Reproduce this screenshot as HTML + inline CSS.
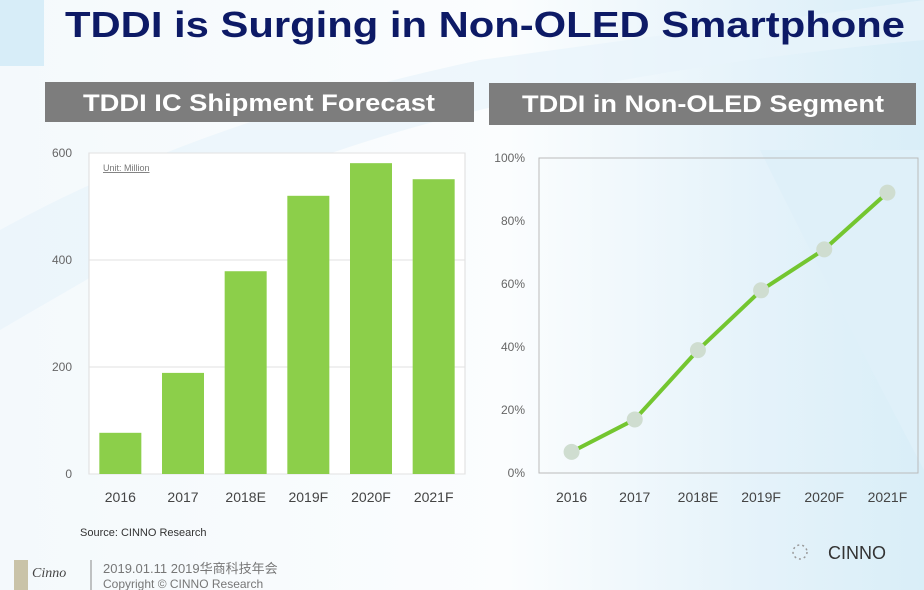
<!DOCTYPE html>
<html><head><meta charset="utf-8"><style>
body{margin:0;width:924px;height:590px;overflow:hidden;font-family:"Liberation Sans",sans-serif;}
svg{display:block}
</style></head><body>
<svg width="924" height="590" viewBox="0 0 924 590">
<defs>
<linearGradient id="bg" x1="0" y1="0" x2="1" y2="0">
<stop offset="0" stop-color="#f4f9fc"/><stop offset="0.55" stop-color="#fbfdfe"/><stop offset="0.8" stop-color="#e6f3fa"/><stop offset="1" stop-color="#d9eef8"/>
</linearGradient>
</defs>
<rect width="924" height="590" fill="url(#bg)"/>
<path d="M0 230 Q200 120 480 60 L924 0 L924 40 Q500 80 260 180 Q120 260 0 330Z" fill="#e8f4fb" opacity="0.7"/>
<path d="M760 150 Q850 330 924 470 L924 150Z" fill="#dff0f9"/>
<rect x="0" y="0" width="44" height="66" fill="#d7edf8"/>
<text x="65" y="37" font-size="36" font-weight="bold" fill="#0d1a66" textLength="840" lengthAdjust="spacingAndGlyphs">TDDI is Surging in Non-OLED Smartphone</text>
<rect x="45" y="82" width="429" height="40" fill="#7d7d7d"/>
<text x="259" y="111" font-size="24" font-weight="bold" fill="#fff" text-anchor="middle" textLength="352" lengthAdjust="spacingAndGlyphs">TDDI IC Shipment Forecast</text>
<rect x="489" y="83" width="427" height="42" fill="#7d7d7d"/>
<text x="703" y="112" font-size="24" font-weight="bold" fill="#fff" text-anchor="middle" textLength="362" lengthAdjust="spacingAndGlyphs">TDDI in Non-OLED Segment</text>
<g id="bar-chart"></g>
<g id="line-chart"></g>
<text x="80" y="536" font-size="11" fill="#333">Source: CINNO Research</text>
<rect x="14" y="560" width="14" height="30" fill="#c9c3a8"/>
<text x="32" y="577" font-size="14" font-style="italic" fill="#444" font-family="Liberation Serif, serif">Cinno</text>
<line x1="91" y1="560" x2="91" y2="590" stroke="#888" stroke-width="1"/>
<text x="103" y="573" font-size="13" fill="#777" font-family="Liberation Sans, Noto Sans CJK SC, sans-serif">2019.01.11 2019华商科技年会</text>
<text x="103" y="588" font-size="12" fill="#777">Copyright © CINNO Research</text>
<circle cx="800" cy="552" r="7" fill="none" stroke="#999" stroke-width="1.5" stroke-dasharray="2 3"/>
<text x="828" y="559" font-size="18" fill="#333">CINNO</text>
</svg>
<script>
const categories=["2016","2017","2018E","2019F","2020F","2021F"];
const shipments=[77,189,379,520,581,551];
const shipTicks=[0,200,400,600];
const penetration=[6.7,17,39,58,71,89];
const pctTicks=[0,20,40,60,80,100];
const NS="http://www.w3.org/2000/svg";
function mk(tag,attrs,parent,txt){const e=document.createElementNS(NS,tag);for(const k in attrs)e.setAttribute(k,attrs[k]);if(txt!==undefined)e.textContent=txt;parent.appendChild(e);return e;}
const bc=document.getElementById('bar-chart');
const bL=89,bR=465,bT=153,bB=474;
const by=v=>bB-(v/600)*(bB-bT);
const bw=(bR-bL)/categories.length;
const bx=i=>bL+bw*(i+0.5);
mk('rect',{x:bL,y:bT,width:bR-bL,height:bB-bT,fill:'#fff',stroke:'#ddd'},bc);
shipTicks.forEach(t=>{
 mk('line',{x1:bL,x2:bR,y1:by(t),y2:by(t),stroke:'#e2e2e2'},bc);
 const l=mk('text',{x:72,y:by(t)+4,'font-size':12,fill:'#666','text-anchor':'end'},bc,String(t));
 
 
});
mk('text',{x:103,y:171,'font-size':9,fill:'#777','text-decoration':'underline'},bc,'Unit: Million');
shipments.forEach((v,i)=>{
 const r=mk('rect',{x:bx(i)-21,y:by(v),width:42,height:by(0)-by(v),fill:'#8ccf4a'},bc);
 
 
 const l=mk('text',{x:bx(i),y:502,'font-size':14,fill:'#444','text-anchor':'middle'},bc,categories[i]);
 
 
});
const lc=document.getElementById('line-chart');
const lL=539,lR=918,lT=158,lB=473;
const ly=v=>lB-(v/100)*(lB-lT);
const lw=(lR-lL)/categories.length;
const lx=i=>lL+lw*(i+0.5)+1;
mk('rect',{x:lL,y:lT,width:lR-lL,height:lB-lT,fill:'none',stroke:'#bbb'},lc);
pctTicks.forEach(t=>{
 const l=mk('text',{x:525,y:ly(t)+4,'font-size':12,fill:'#666','text-anchor':'end'},lc,t+'%');
 
 
});
const pts=penetration.map((v,i)=>lx(i)+','+ly(v)).join(' ');
const pl=mk('polyline',{points:pts,fill:'none',stroke:'#74c630','stroke-width':4,'stroke-linejoin':'round'},lc);


penetration.forEach((v,i)=>{
 const c=mk('circle',{cx:lx(i),cy:ly(v),r:8,fill:'#cfddd0'},lc);
 
 
 const l=mk('text',{x:lx(i),y:502,'font-size':14,fill:'#444','text-anchor':'middle'},lc,categories[i]);
 
 
});
</script>
</body></html>
